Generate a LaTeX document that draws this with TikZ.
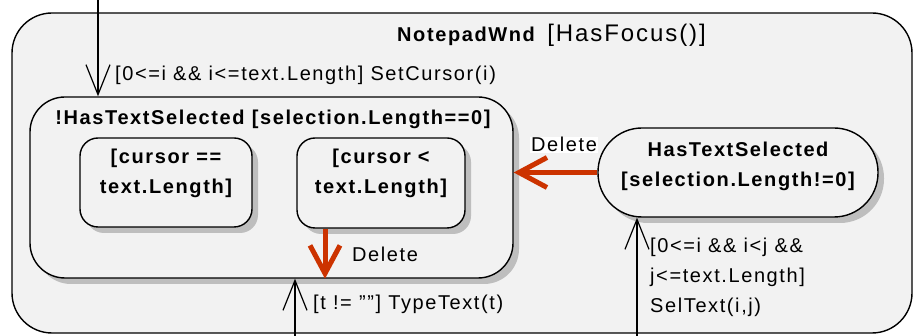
\documentclass[tikz,border=0pt]{standalone}
\usepackage{fontspec}
\setmainfont{Liberation Sans}[LetterSpace=8]
\usepackage{xcolor}
\usetikzlibrary{arrows.meta, positioning, calc}

\definecolor{wndgray}{RGB}{242,242,242}
\definecolor{shadegray}{RGB}{190,190,190}
\definecolor{delred}{RGB}{204,51,0}

\begin{document}
\begin{tikzpicture}[
    x=1pt, y=-1pt,
    font=\fontsize{20}{30}\selectfont,
    % Node styles
    region/.style={rectangle, rounded corners=40pt, draw=black, line width=1.4pt, fill=wndgray, inner sep=0pt},
    statebox/.style={rectangle, rounded corners=#1, draw=black, line width=1.4pt, fill=wndgray, inner sep=0pt},
    statebox/.default=20pt,
    shadebox/.style={rectangle, rounded corners=#1, fill=shadegray, inner sep=0pt},
    shadebox/.default=20pt,
    statetext/.style={font=\fontsize{20}{30}\selectfont\bfseries, inner sep=0pt, align=center},
    trlabel/.style={inner sep=0pt, align=left},
    % Line and arrow styles
    trans/.style={-{Straight Barb[length=30pt, width=24pt]}, line width=1.2pt, draw=black},
    delarrow/.style={-{Straight Barb[length=28pt, width=30pt]}, line width=5pt, draw=delred}
]
\useasboundingbox (0,0) rectangle (914,336);

% 1. Window region
\node[region, minimum width=900pt, minimum height=320pt] (wnd) at (462,173) {};
\node[statetext, anchor=base west] (wndname) at (397,42) {NotepadWnd};
\node[inner sep=0pt, font=\fontsize{24}{28}\selectfont, anchor=base west] (wndguard) at ($(wndname.base east)+(12,0)$) {[HasFocus()]};

% 2. No selection state with its substates
\node[shadebox=35pt, minimum width=483pt, minimum height=181pt] (notselshade) at (277.5,193.5) {};
\node[statebox=35pt, minimum width=483pt, minimum height=181pt] (notsel) at (271.5,187.5) {};
\node[statetext, anchor=base] (notseltitle) at ($(notsel.north)+(1.5,28)$) {!HasTextSelected [selection.Length==0]};

\node[shadebox=18pt, minimum width=172pt, minimum height=89pt] (cursorendshade) at (172,188.5) {};
\node[statebox=18pt, minimum width=172pt, minimum height=89pt] (cursorend) at (166,182.5) {};
\node[statetext, anchor=north] (cursorendtext) at ($(cursorend.north)+(0,12)$) {[cursor ==\\ text.Length]};
\node[shadebox=18pt, minimum width=168pt, minimum height=90pt] (cursormidshade) at (387,189) {};
\node[statebox=18pt, minimum width=168pt, minimum height=90pt] (cursormid) at (381,183) {};
\node[statetext, anchor=north] (cursormidtext) at ($(cursormid.north)+(0,12)$) {[cursor <\\ text.Length]};

% 3. Selection state
\node[shadebox=44pt, minimum width=280pt, minimum height=89pt] (hasselshade) at (744,178.5) {};
\node[statebox=44pt, minimum width=280pt, minimum height=89pt] (hassel) at (738,172.5) {};
\node[statetext, anchor=north] (hasseltext) at ($(hassel.north)+(0,15)$) {HasTextSelected\\ {[}selection.Length!=0]};

% 4. Transitions
\coordinate (setin) at (98,0);
\coordinate (typein) at (295,336);
\coordinate (selin) at (637,336);
\coordinate (delx) at (325,0);

\draw[trans] (setin) -- (setin |- notsel.north);
\draw[trans] (typein) -- (typein |- notsel.south);
\draw[trans] (selin) -- (selin |- hassel.south);
\draw[delarrow] (delx |- cursormid.south) -- (delx |- notsel.south);
\draw[delarrow] (hassel.west) -- (hassel.west -| notsel.east);

\node[trlabel, anchor=base west] (setcursor) at (115,81) {[0<=i \&\& i<=text.Length] SetCursor(i)};
\node[trlabel, anchor=base west] (typetext) at (313,310) {[t != ""] TypeText(t)};
\node[trlabel, anchor=base west] (seltext) at (650,313) {[0<=i \&\& i<j \&\&\\ j<=text.Length]\\ SelText(i,j)};
\node[trlabel, anchor=base west] (dellabel) at (352,262) {Delete};
\node[trlabel, anchor=base west, fill=white, inner sep=1pt] (delsellabel) at (530,152) {Delete};

\end{tikzpicture}
\end{document}
